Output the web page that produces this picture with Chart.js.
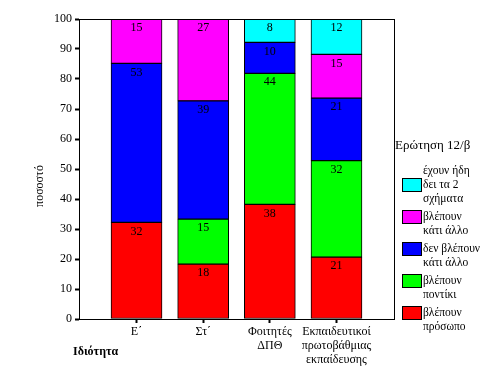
<!DOCTYPE html>
<html>
<head>
<meta charset="utf-8">
<script src="https://cdn.jsdelivr.net/npm/chart.js@4/dist/chart.umd.min.js"></script>
<style>
  body { margin: 0; background: #fff; }
</style>
</head>
<body>
<canvas id="myChart" width="480" height="384"></canvas>
<script>
// categories (x axis), multi-line
const categories = [
  ["Ε΄"],
  ["Στ΄"],
  ["Φοιτητές", "ΔΠΘ"],
  ["Εκπαιδευτικοί", "πρωτοβάθμιας", "εκπαίδευσης"]
];

// series, bottom to top
const seriesNames = [
  ["βλέπουν", "πρόσωπο"],
  ["βλέπουν", "ποντίκι"],
  ["δεν βλέπουν", "κάτι άλλο"],
  ["βλέπουν", "κάτι άλλο"],
  ["έχουν ήδη", "δει τα 2", "σχήματα"]
];
const seriesColors = ["#ff0000", "#00ff00", "#0000ff", "#ff00ff", "#00ffff"];

// percentages per category
const face     = [32.2, 18.3, 38.2, 20.6];
const mouse    = [null, 15.0, 43.7, 32.2];
const notOther = [53.0, 39.4, 10.3, 20.8];
const other    = [14.8, 27.3, null, 14.6];
const seenBoth = [null, null, 7.8, 11.8];
const seriesValues = [face, mouse, notOther, other, seenBoth];

const yTicks = [0, 10, 20, 30, 40, 50, 60, 70, 80, 90, 100];

const legendTitle = "Ερώτηση 12/β";
const xTitle = "Ιδιότητα";
const yTitle = "ποσοστό";

const FONT = "Liberation Serif";

// frame, value labels, legend, axis titles
const extras = {
  id: "extras",
  afterDraw(chart) {
    const ctx = chart.ctx;
    const area = chart.chartArea;
    ctx.save();
    ctx.strokeStyle = "#000";
    ctx.lineWidth = 1;
    ctx.strokeRect(Math.round(area.left) + 0.5, Math.round(area.top) + 0.5,
      Math.round(area.right - area.left), Math.round(area.bottom - area.top));

    // value labels
    ctx.fillStyle = "#000";
    ctx.font = "12px '" + FONT + "'";
    ctx.textAlign = "center";
    ctx.textBaseline = "middle";
    chart.data.datasets.forEach((ds, i) => {
      const meta = chart.getDatasetMeta(i);
      meta.data.forEach((bar, j) => {
        const v = ds.data[j].y;
        if (v == null) return;
        ctx.fillText(String(Math.round(v)), bar.x, bar.y + 9);
      });
    });

    // legend
    ctx.textAlign = "left";
    ctx.font = "13px '" + FONT + "'";
    ctx.fillText(legendTitle, 395, 146);
    ctx.font = "11.5px '" + FONT + "'";
    const n = chart.data.datasets.length;
    for (let k = 0; k < n; k++) {
      const i = n - 1 - k;
      const cy = 185 + k * 32;
      ctx.fillStyle = seriesColors[i];
      ctx.fillRect(402, cy - 7, 20, 14);
      ctx.strokeStyle = "#000";
      ctx.strokeRect(402.5, cy - 6.5, 19, 13);
      ctx.fillStyle = "#000";
      const lines = seriesNames[i];
      const start = cy - Math.floor((lines.length - 1) / 2) * 14;
      lines.forEach((t, li) => ctx.fillText(t, 423, start + li * 14));
    }

    // axis titles
    ctx.font = "bold 12px '" + FONT + "'";
    ctx.fillText(xTitle, 73, 352);
    ctx.font = "12px '" + FONT + "'";
    ctx.translate(40, 186);
    ctx.rotate(-Math.PI / 2);
    ctx.textAlign = "center";
    ctx.fillText(yTitle, 0, 0);
    ctx.restore();
  }
};

const datasets = seriesValues.map((vals, i) => ({
  label: seriesNames[i].join(" "),
  data: vals.map((v, j) => ({ x: j, y: v })),
  backgroundColor: seriesColors[i],
  borderColor: "#000",
  borderWidth: 1,
  borderSkipped: false,
  barThickness: 51
}));

const ctx = document.getElementById("myChart").getContext("2d");
new Chart(ctx, {
  type: "bar",
  data: { datasets: datasets },
  plugins: [extras],
  options: {
    responsive: false,
    animation: false,
    layout: { padding: { left: 0, top: 19, right: 86, bottom: 0 } },
    plugins: { legend: { display: false }, tooltip: { enabled: false } },
    scales: {
      x: {
        type: "linear",
        stacked: true,
        offset: false,
        min: -0.863,
        max: 3.863,
        afterBuildTicks: (scale) => {
          scale.ticks = categories.map((c, i) => ({ value: i }));
        },
        afterFit: (scale) => { scale.height = 65; },
        grid: {
          offset: false,
          drawOnChartArea: false,
          drawTicks: true,
          tickLength: 4,
          tickWidth: 2,
          tickColor: "#000"
        },
        border: { display: true, color: "#000", width: 1 },
        ticks: {
          autoSkip: false,
          maxRotation: 0,
          padding: 2,
          color: "#000",
          font: { family: FONT, size: 12, lineHeight: "14px" },
          callback: (v) => categories[v]
        }
      },
      y: {
        stacked: true,
        min: 0,
        max: 100,
        afterBuildTicks: (scale) => {
          scale.ticks = yTicks.map(v => ({ value: v }));
        },
        afterFit: (scale) => { scale.width = 79; },
        grid: {
          drawOnChartArea: false,
          drawTicks: true,
          tickLength: 4,
          tickWidth: 2,
          tickColor: "#000"
        },
        border: { display: true, color: "#000", width: 1 },
        ticks: {
          padding: 3,
          color: "#000",
          font: { family: FONT, size: 12 }
        }
      }
    }
  }
});
</script>
</body>
</html>
